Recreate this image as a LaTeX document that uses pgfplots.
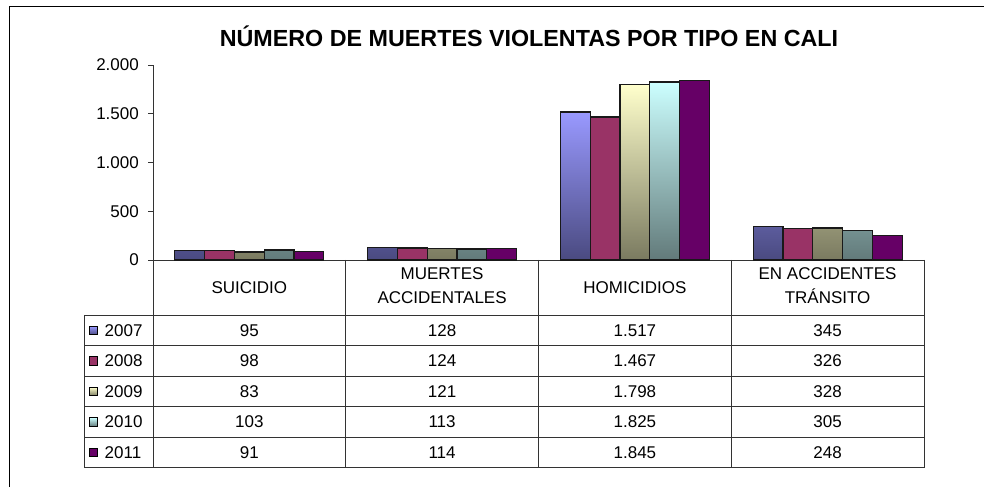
\documentclass[border=0pt]{standalone}
\usepackage{pgfplots}
\pgfplotsset{compat=1.18}
\usepackage{fontspec}
\setmainfont{Liberation Sans}
\definecolor{cAt}{HTML}{9999FF}\definecolor{cAb}{HTML}{4A4A80}
\definecolor{cB}{HTML}{993366}
\definecolor{cCt}{HTML}{FFFFCC}\definecolor{cCb}{HTML}{7A7A60}
\definecolor{cDt}{HTML}{CCFFFF}\definecolor{cDb}{HTML}{627A7A}
\definecolor{cE}{HTML}{660066}
\definecolor{linec}{HTML}{333333}
\tikzset{
  s2007/.style={top color=cAt, bottom color=cAb},
  s2008/.style={fill=cB},
  s2009/.style={top color=cCt, bottom color=cCb},
  s2010/.style={top color=cDt, bottom color=cDb},
  s2011/.style={fill=cE},
}
\newcommand{\tf}{\fontsize{17}{20}\selectfont}
\begin{document}
\begin{tikzpicture}[x=1pt,y=1pt]
\useasboundingbox (0,0) rectangle (984,487);
\draw[line width=1pt] (9.5,0) -- (9.5,480.5) -- (984,480.5);
\node[anchor=base, font=\fontsize{23.3}{26}\selectfont\bfseries] at (529,440) {NÚMERO DE MUERTES VIOLENTAS POR TIPO EN CALI};
\begin{axis}[
  at={(153pt,227pt)}, anchor=south west,
  scale only axis, width=771pt, height=195pt,
  xmin=-0.5, xmax=3.5, ymin=0, ymax=2000,
  axis lines=left, axis line style={-, draw=linec, line width=0.8pt},
  xtick=\empty, ytick={0,500,1000,1500,2000},
  tick align=outside, major tick length=5pt,
  tick style={draw=linec, line width=0.8pt},
  grid=none,
  yticklabel style={font=\tf, inner sep=0pt, xshift=-9pt},
  /pgf/number format/.cd, 1000 sep={.}, assume math mode=true,
  /pgfplots/.cd,
  ybar=0pt, bar width=29.8pt,
  every axis plot/.append style={draw=black!90, line width=1.2pt},
  clip=false,
]
\addplot[s2007] coordinates {(0,95) (1,128) (2,1517) (3,345)};
\addplot[s2008] coordinates {(0,98) (1,124) (2,1467) (3,326)};
\addplot[s2009] coordinates {(0,83) (1,121) (2,1798) (3,328)};
\addplot[s2010] coordinates {(0,103) (1,113) (2,1825) (3,305)};
\addplot[s2011] coordinates {(0,91) (1,114) (2,1845) (3,248)};
\end{axis}
% data table
\foreach \y in {172,141.5,111,80.5,50,19.5} \draw[linec, line width=0.8pt] (84,\y) -- (924,\y);
\draw[linec, line width=0.8pt] (84,172) -- (84,19.5);
\foreach \x in {153,345.75,538.5,731.25,924} \draw[linec, line width=0.8pt] (\x,227) -- (\x,19.5);
% header
\node[anchor=base, font=\tf] at (249.4,193.7) {SUICIDIO};
\node[anchor=base, font=\tf] at (442.1,207) {MUERTES};
\node[anchor=base, font=\tf] at (442.1,183.7) {ACCIDENTALES};
\node[anchor=base, font=\tf] at (634.9,193.7) {HOMICIDIOS};
\node[anchor=base, font=\tf] at (827.6,207) {EN ACCIDENTES};
\node[anchor=base, font=\tf] at (827.6,183.7) {TRÁNSITO};
% rows
\foreach \yr/\cy/\a/\b/\c/\d in {
  2007/156.75/95/128/1.517/345,
  2008/126.25/98/124/1.467/326,
  2009/95.75/83/121/1.798/328,
  2010/65.25/103/113/1.825/305,
  2011/34.75/91/114/1.845/248} {
  \draw[black, line width=0.6pt, s\yr] (89,\cy-4.5) rectangle (97.5,\cy+4);
  \node[anchor=base west, font=\tf, inner sep=0pt] at (104.5,\cy-6) {\yr};
  \node[anchor=base, font=\tf] at (249.4,\cy-6) {\a};
  \node[anchor=base, font=\tf] at (442.1,\cy-6) {\b};
  \node[anchor=base, font=\tf] at (634.9,\cy-6) {\c};
  \node[anchor=base, font=\tf] at (827.6,\cy-6) {\d};
}
\end{tikzpicture}
\end{document}
